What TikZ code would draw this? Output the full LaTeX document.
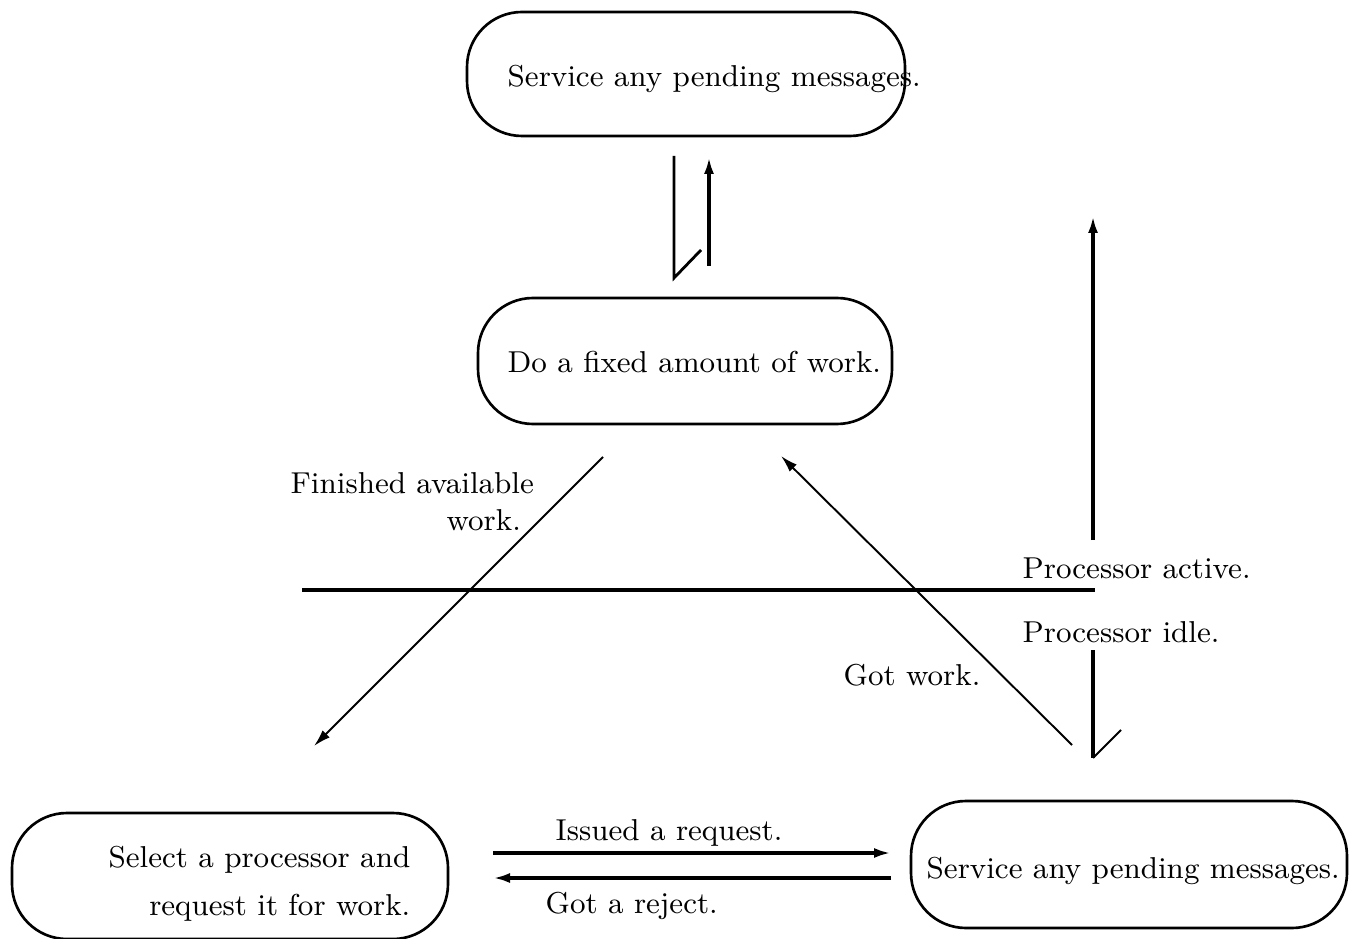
\documentclass[tikz,border=0pt]{standalone}
\usetikzlibrary{arrows.meta}
\begin{document}
\begin{tikzpicture}[
		box/.style={draw,line width=0.75pt,rounded corners=0.55cm,inner sep=0pt},
		txt/.style={inner sep=0pt,font=\fontsize{8.6}{13.6}\selectfont},
		thick line/.style={line width=1.05pt},
		thin line/.style={line width=0.55pt},
		>={Latex[length=0.17cm,width=0.1cm]}]
				\useasboundingbox (0,0) rectangle (13.49,9.38);
				% boxes
				\node [box,minimum width=4.38cm,minimum height=1.24cm] (svctop) at (6.86,8.64) {};
				\node [box,minimum width=4.14cm,minimum height=1.26cm] (work) at (6.85,5.77) {};
				\node [box,minimum width=4.36cm,minimum height=1.26cm] (select) at (2.30,0.62) {};
				\node [box,minimum width=4.36cm,minimum height=1.27cm] (svcidle) at (11.29,0.735) {};
				\node [txt,anchor=base west] (svctoptxt) at (5.07,8.51) {Service any pending messages.};
				\node [txt,anchor=base west] (worktxt) at (5.07,5.65) {Do a fixed amount of work.};
				\node [txt,anchor=base east,align=right] (selecttxt) at (4.11,0.23) {Select a processor and\\request it for work.};
				\node [txt,anchor=base west] (svcidletxt) at (9.26,0.60) {Service any pending messages.};
				% end points
				\coordinate (T1) at (6.74,7.82);
				\coordinate (T2) at (6.74,6.60);
				\coordinate (T3) at (7.01,6.88);
				\coordinate (U1) at (7.09,6.72);
				\coordinate (U2) at (7.09,7.81);
				\coordinate (R1) at (10.93,3.98);
				\coordinate (R2) at (10.93,7.22);
				\coordinate (S1) at (10.93,2.88);
				\coordinate (S2) at (10.93,1.80);
				\coordinate (S3) at (11.21,2.08);
				\coordinate (H1) at (3.02,3.48);
				\coordinate (H2) at (10.95,3.48);
				\coordinate (F1) at (6.03,4.81);
				\coordinate (F2) at (3.14,1.92);
				\coordinate (G1) at (10.72,1.93);
				\coordinate (G2) at (7.81,4.82);
				\coordinate (Q1) at (4.93,0.85);
				\coordinate (Q2) at (8.91,0.85);
				\coordinate (J1) at (8.91,0.60);
				\coordinate (J2) at (4.93,0.60);
				% connectors
				\draw [line width=0.8pt] (T1) -- (T2) -- (T3);
				\draw [thick line,->] (U1) -- (U2);
				\draw [thick line,->] (R1) -- (R2);
				\draw [thick line] (S1) -- (S2);
				\draw [thin line] (S2) -- (S3);
				\draw [thick line] (H1) -- (H2);
				\draw [thin line,->] (F1) -- (F2);
				\draw [thin line,->] (G1) -- (G2);
				\draw [thick line,->] (Q1) -- (Q2);
				\draw [thick line,->] (J1) -- (J2);
				% labels
				\node [txt,anchor=base west,align=right,font=\fontsize{8.6}{10.5}\selectfont] (finished) at (2.90,4.08) {Finished available\\work.\hspace*{0.13cm}};
				\node [txt,anchor=base west] (active) at (10.22,3.60) {Processor active.};
				\node [txt,anchor=base west] (idle) at (10.22,2.96) {Processor idle.};
				\node [txt,anchor=base west] (gotwork) at (8.43,2.53) {Got work.};
				\node [txt,anchor=base west] (issued) at (5.55,0.98) {Issued a request.};
				\node [txt,anchor=base west] (reject) at (5.45,0.25) {Got a reject.};
			\end{tikzpicture}
\end{document}
